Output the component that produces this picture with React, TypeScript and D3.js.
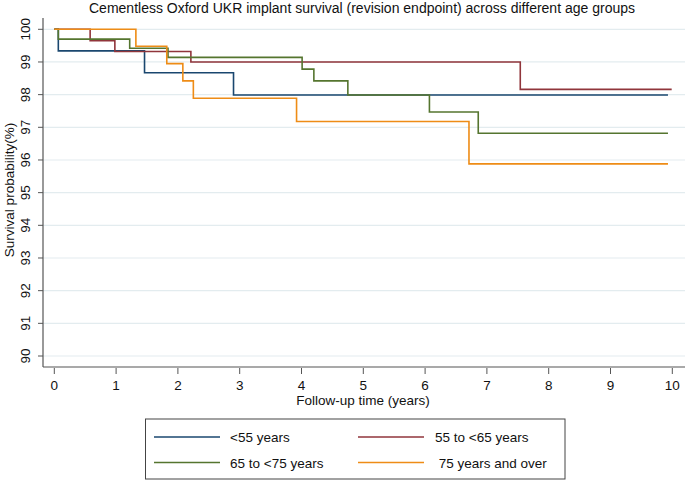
import * as d3 from 'd3';

const TITLE = 'Cementless Oxford UKR implant survival (revision endpoint) across different age groups';
const X_TICKS = [0, 1, 2, 3, 4, 5, 6, 7, 8, 9, 10];
const Y_TICKS = [90, 91, 92, 93, 94, 95, 96, 97, 98, 99, 100];

const GROUPS = ['<55 years', '55 to <65 years', '65 to <75 years', ' 75 years and over'];
const COLORS = ['#1a476f', '#90353b', '#55752f', '#ee8c16'];

// step times (years) and survival (%)
const under55T = [0, 0.065, 1.46, 2.9, 9.93];
const under55V = [100, 99.34, 98.67, 97.99, 97.99];
const age55T = [0, 0.58, 0.98, 2.21, 7.54, 9.99];
const age55V = [100, 99.65, 99.32, 99.0, 98.16, 98.16];
const age65T = [0, 0.065, 1.22, 1.84, 4.01, 4.2, 4.75, 6.07, 6.86, 9.93];
const age65V = [100, 99.7, 99.42, 99.14, 98.78, 98.42, 97.99, 97.47, 96.82, 96.82];
const age75T = [0, 1.32, 1.82, 2.08, 2.25, 3.92, 6.71, 9.93];
const age75V = [100, 99.48, 98.95, 98.42, 97.89, 97.18, 95.88, 95.88];

const SERIES = [
  [under55T, under55V],
  [age55T, age55V],
  [age65T, age65V],
  [age75T, age75V],
];

const W = 685;
const H = 481;
const FONT = '"Liberation Sans", Arial, Helvetica, sans-serif';
const PLOT = { left: 43, right: 685, top: 18, bottom: 367 };

export default function App() {
  const x = d3.scaleLinear().domain([0, 10]).range([54.3, 672.3]);
  const y = d3.scaleLinear().domain([90, 100]).range([356, 29.3]);

  const line = d3.line<[number, number]>()
    .x(d => x(d[0]))
    .y(d => y(d[1]))
    .curve(d3.curveStepAfter);

  const legendRows = [
    { i: 0, lx: 154, tx: 230, ly: 437 },
    { i: 1, lx: 358, tx: 435, ly: 437 },
    { i: 2, lx: 154, tx: 230, ly: 462.5 },
    { i: 3, lx: 358, tx: 435, ly: 462.5 },
  ];

  return (
    <svg width={W} height={H} style={{ position: 'absolute', left: 0, top: 0, background: '#fff' }} fontFamily={FONT}>
      <text x={362} y={13} textAnchor="middle" fontSize={14} fill="#111">{TITLE}</text>

      {/* grid */}
      {Y_TICKS.map(t => (
        <line key={t} x1={PLOT.left} x2={PLOT.right} y1={y(t)} y2={y(t)} stroke="#e3ecef" strokeWidth={1.2} />
      ))}

      {/* survival curves */}
      {SERIES.map(([ts, vs], i) => (
        <path key={i} d={line(ts.map((t, j) => [t, vs[j]] as [number, number])) || ''}
          fill="none" stroke={COLORS[i]} strokeWidth={1.6} />
      ))}

      {/* axes */}
      <line x1={PLOT.left} x2={PLOT.left} y1={PLOT.top} y2={PLOT.bottom} stroke="#555" strokeWidth={1.2} />
      <line x1={PLOT.left} x2={PLOT.right} y1={PLOT.bottom} y2={PLOT.bottom} stroke="#555" strokeWidth={1.2} />
      {Y_TICKS.map(t => (
        <g key={t}>
          <line x1={PLOT.left - 5} x2={PLOT.left} y1={y(t)} y2={y(t)} stroke="#555" strokeWidth={1} />
          <text transform={`translate(${30},${y(t)}) rotate(-90)`} textAnchor="middle" fontSize={13.5} fill="#111">{t}</text>
        </g>
      ))}
      {X_TICKS.map(t => (
        <g key={t}>
          <line x1={x(t)} x2={x(t)} y1={PLOT.bottom + 1} y2={PLOT.bottom + 7} stroke="#555" strokeWidth={1} />
          <text x={x(t)} y={389.5} textAnchor="middle" fontSize={13.5} fill="#111">{t}</text>
        </g>
      ))}
      <text x={363} y={404.5} textAnchor="middle" fontSize={13.5} fill="#111">Follow-up time (years)</text>
      <text transform={`translate(${14},${190}) rotate(-90)`} textAnchor="middle" fontSize={13.5} fill="#111">Survival probability(%)</text>

      {/* legend */}
      <rect x={145.5} y={419} width={419.5} height={60} fill="#fff" stroke="#444" strokeWidth={1} />
      {legendRows.map(r => (
        <g key={r.i}>
          <line x1={r.lx} x2={r.lx + 66} y1={r.ly} y2={r.ly} stroke={COLORS[r.i]} strokeWidth={1.6} />
          <text x={r.tx} y={r.ly + 5} fontSize={13.5} fill="#111" style={{ whiteSpace: 'pre' }}>{GROUPS[r.i]}</text>
        </g>
      ))}
    </svg>
  );
}
